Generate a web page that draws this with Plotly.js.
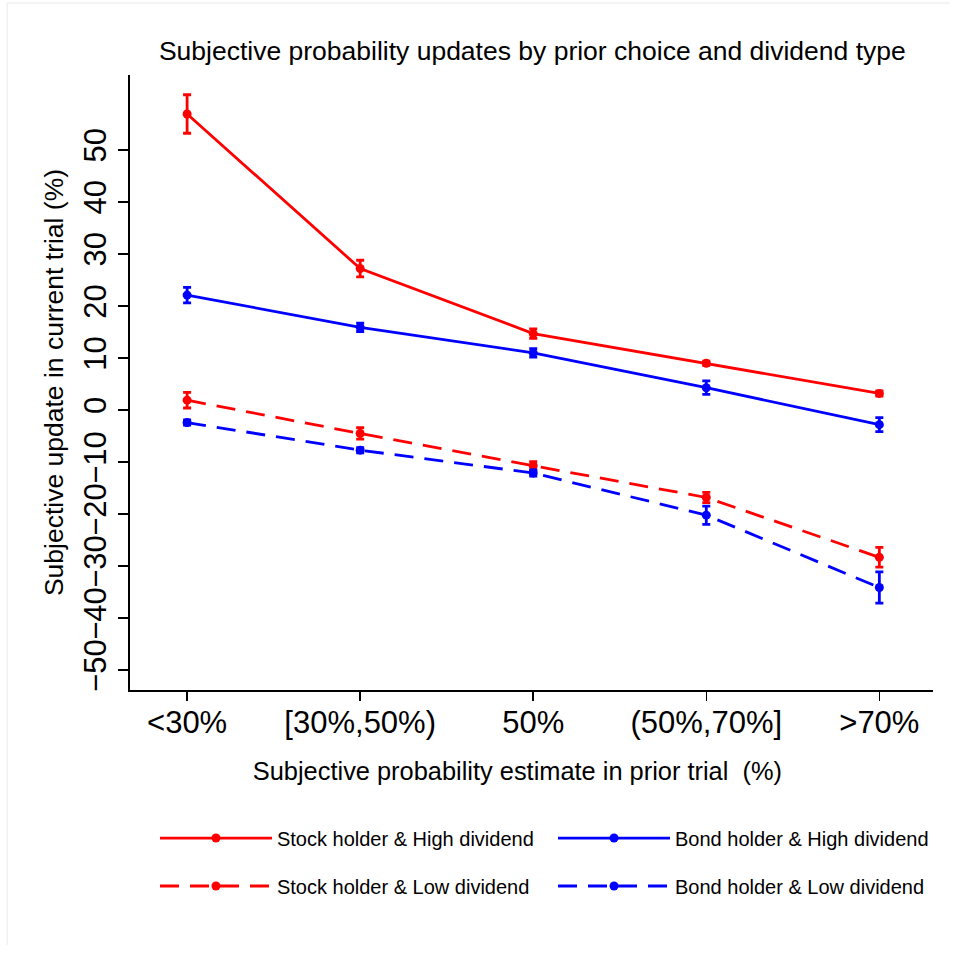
<!DOCTYPE html>
<html>
<head>
<meta charset="utf-8">
<script src="https://cdn.plot.ly/plotly-3.0.1.min.js"></script>
<style>html,body{margin:0;padding:0;background:#fff;}#chart{width:954px;height:957px;}</style>
</head>
<body>
<div id="chart"></div>
<script>
const categories = ["<30%", "[30%,50%)", "50%", "(50%,70%]", ">70%"];
const yTickVals = [-50, -40, -30, -20, -10, 0, 10, 20, 30, 40, 50];
const yTickText = ["\u221250", "\u221240", "\u221230", "\u221220", "\u221210", "0", "10", "20", "30", "40", "50"];

const stockHigh = [56.9, 27.2, 14.7, 9.0, 3.2];
const stockHighErr = [3.7, 1.6, 0.9, 0.4, 0.5];
const bondHigh = [22.1, 15.9, 11.0, 4.3, -2.8];
const bondHighErr = [1.5, 0.8, 0.8, 1.3, 1.35];
const stockLow = [1.9, -4.5, -10.7, -16.8, -28.3];
const stockLowErr = [1.5, 1.1, 0.8, 1.0, 1.9];
const bondLow = [-2.4, -7.7, -12.1, -20.2, -34.1];
const bondLowErr = [0.5, 0.5, 0.6, 1.75, 3.0];

const names = ["Stock holder & High dividend", "Bond holder & High dividend",
               "Stock holder & Low dividend", "Bond holder & Low dividend"];

function mk(name, y, err, color, dash, legend) {
  return {
    type: "scatter", mode: "lines+markers", name: name, legend: legend,
    x: [0, 1, 2, 3, 4], y: y,
    line: {color: color, width: 2.8, dash: dash},
    marker: {color: color, size: 9, symbol: "circle"},
    error_y: {type: "data", array: err, visible: true, color: color, thickness: 2.8, width: 4}
  };
}

const DASH = "19px,11px";
const data = [
  mk(names[0], stockHigh, stockHighErr, "#ff0000", "solid", "legend"),
  mk(names[1], bondHigh, bondHighErr, "#0000ff", "solid", "legend2"),
  mk(names[2], stockLow, stockLowErr, "#ff0000", DASH, "legend3"),
  mk(names[3], bondLow, bondLowErr, "#0000ff", DASH, "legend4")
];

function leg(x, y) {
  return {
    orientation: "h", x: x, xanchor: "left", y: y, yanchor: "middle",
    itemwidth: 112, font: {size: 20, color: "#000"}, itemclick: false,
    bgcolor: "rgba(0,0,0,0)", borderwidth: 0
  };
}

const layout = {
  width: 954, height: 957,
  paper_bgcolor: "#ffffff", plot_bgcolor: "#ffffff",
  font: {family: "Liberation Sans, Arial, sans-serif", color: "#000"},
  margin: {l: 130, r: 21, t: 75, b: 267, autoexpand: false},
  title: {text: "Subjective probability updates by prior choice and dividend type",
          font: {size: 26.5, color: "#000"}, x: 0.558, xanchor: "center", y: 0.947, yanchor: "middle"},
  xaxis: {
    range: [-0.33, 4.31], tickmode: "array", tickvals: [0, 1, 2, 3, 4], ticktext: categories,
    showgrid: false, zeroline: false, showline: true, linecolor: "#000", linewidth: 2,
    ticks: "outside", ticklen: 9, tickwidth: 1.5, tickcolor: "#000",
    tickfont: {size: 31}, fixedrange: true, ticklabelstandoff: -5,
    title: {text: "Subjective probability estimate in prior trial&nbsp;&nbsp;(%)&nbsp;&nbsp;&nbsp;&nbsp;", font: {size: 25.4}, standoff: 23}
  },
  yaxis: {
    range: [-53.8, 64.4], tickmode: "array", tickvals: yTickVals, ticktext: yTickText,
    tickangle: -90,
    showgrid: false, zeroline: false, showline: true, linecolor: "#000", linewidth: 2,
    ticks: "outside", ticklen: 10, tickwidth: 1.5, tickcolor: "#000",
    tickfont: {size: 31}, fixedrange: true,
    title: {text: "Subjective update in current trial (%)", font: {size: 26.5}, standoff: 6}
  },
  showlegend: true,
  legend: leg(0.0311, -0.2407),
  legend2: leg(0.5268, -0.2407),
  legend3: leg(0.0311, -0.3187),
  legend4: leg(0.5268, -0.3187),
  shapes: [
    {type: "line", xref: "paper", yref: "paper", x0: -0.153, x1: 1.021, y0: 1.117, y1: 1.117,
     line: {color: "#e6ecea", width: 1}},
    {type: "line", xref: "paper", yref: "paper", x0: -0.153, x1: -0.153, y0: 1.117, y1: -0.415,
     line: {color: "#e6ecea", width: 1}}
  ]
};

Plotly.newPlot("chart", data, layout, {staticPlot: true, displayModeBar: false});
</script>
</body>
</html>
